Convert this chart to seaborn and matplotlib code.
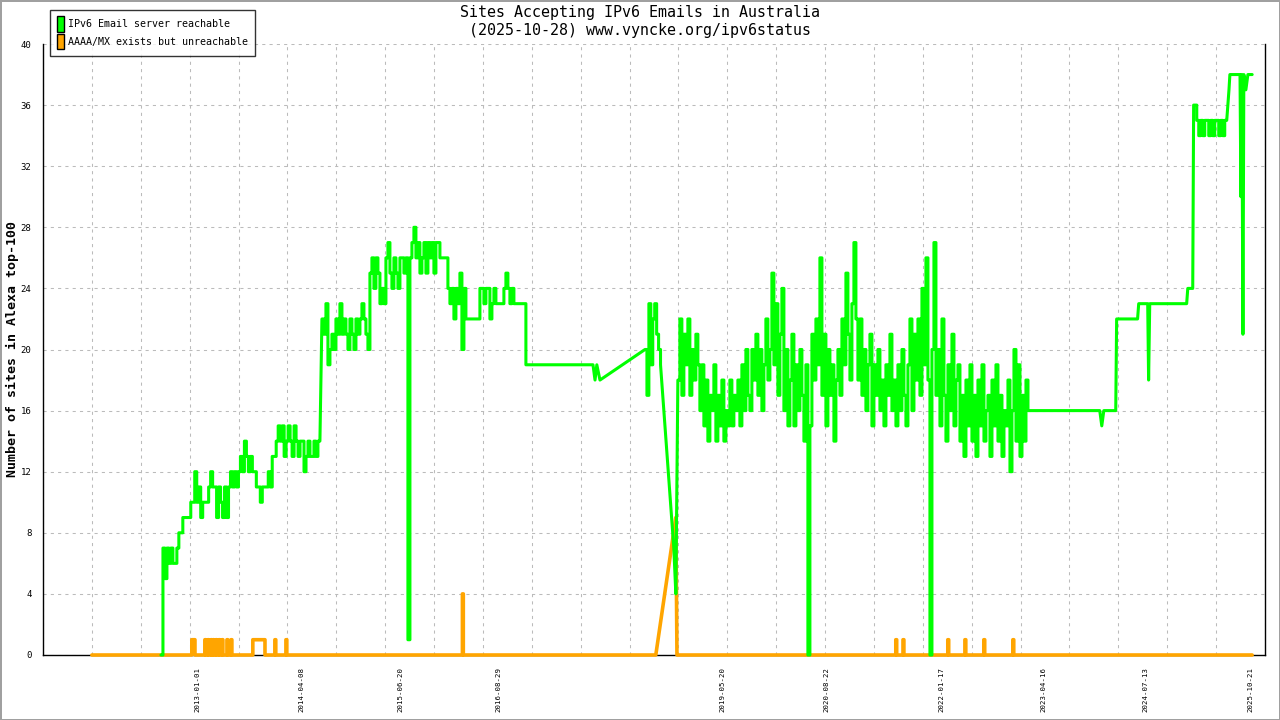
import numpy as np
import pandas as pd
import matplotlib
matplotlib.use("Agg")
import matplotlib.pyplot as plt
from matplotlib.patches import Patch
import seaborn as sns

#%% values
first_day = "2011-09-18"
last_day = "2025-10-28"

# green (reachable) - noisy stretches, read at even steps between two dates
g_early_span = ("2012-07-21", "2014-06-27")
g_early = [0, 7, 5, 7, 6, 7, 6, 6, 7, 8,
           8, 9, 9, 9, 9, 10, 10, 12, 10, 11,
           9, 10, 10, 10, 11, 12, 11, 11, 9, 11,
           10, 9, 11, 9, 11, 12, 11, 12, 11, 12,
           13, 12, 14, 13, 12, 13, 12, 12, 11, 11,
           10, 11, 11, 11, 12, 11, 13, 13, 14, 15,
           14, 15, 13, 14, 15, 14, 13, 15, 14, 13,
           14, 14, 12, 13, 14, 13, 13, 14, 13, 14, 14]

g_peak_span = ("2014-07-06", "2016-12-28")
g_peak = [22, 21, 23, 19, 20, 21, 20, 22, 21, 23,
          21, 22, 21, 20, 22, 21, 20, 22, 21, 22,
          23, 22, 21, 20, 25, 26, 24, 26, 25, 23,
          24, 23, 26, 27, 25, 24, 26, 25, 24, 26,
          26, 25, 26, 1, 26, 27, 28, 26, 27, 25,
          26, 27, 25, 27, 26, 27, 25, 27, 27, 26,
          26, 26, 26, 24, 23, 24, 22, 24, 23, 25,
          20, 24, 22, 22, 22, 22, 22, 22, 22, 24,
          24, 23, 24, 24, 22, 23, 24, 23, 23, 23,
          23, 24, 25, 24, 23, 24, 23, 23, 23, 23,
          23, 23, 19]

g_mid_span = ("2018-06-10", "2018-08-18")
g_mid = [20, 17, 23, 19, 22, 23, 21, 20, 19]

g_noisy_span = ("2018-11-03", "2023-02-14")
g_noisy = [18, 22, 17, 21, 19, 22, 17, 20, 18, 21,
           19, 16, 19, 15, 18, 14, 17, 16, 19, 14,
           17, 15, 18, 14, 16, 15, 18, 15, 17, 16,
           18, 15, 19, 16, 20, 17, 16, 20, 18, 21,
           17, 20, 16, 19, 22, 18, 20, 25, 19, 23,
           17, 21, 24, 16, 20, 15, 18, 21, 15, 19,
           16, 20, 17, 14, 19, 0, 15, 21, 18, 22,
           19, 26, 17, 21, 15, 20, 17, 19, 14, 18,
           20, 17, 22, 19, 25, 21, 18, 23, 27, 22,
           18, 22, 17, 20, 16, 19, 21, 15, 19, 17,
           20, 16, 18, 15, 19, 17, 21, 16, 18, 15,
           19, 16, 20, 17, 15, 19, 22, 16, 21, 18,
           22, 17, 24, 19, 26, 18, 0, 20, 27, 17,
           20, 15, 22, 17, 14, 19, 16, 21, 15, 18,
           19, 14, 17, 13, 18, 15, 19, 14, 17, 13,
           18, 15, 19, 14, 16, 17, 13, 18, 15, 19,
           14, 17, 13, 16, 15, 18, 12, 16, 20, 14,
           19, 13, 17, 14, 18, 16, 16]

g_late_span = ("2025-02-15", "2025-07-07")
g_late = [36, 35, 34, 35, 34, 35, 35, 34, 35, 34, 35, 35, 34, 35, 34, 35, 35]

# green - single readings on the quiet stretches
g_dates = ["2017-10-22", "2017-10-31", "2017-11-08", "2017-11-22",
           "2018-10-16", "2018-10-25",
           "2023-12-21", "2023-12-30", "2024-01-08", "2024-03-01", "2024-03-05",
           "2024-06-06", "2024-06-11", "2024-07-21", "2024-07-25", "2024-07-30",
           "2025-01-10", "2025-01-15", "2025-02-06", "2025-02-10",
           "2025-07-12", "2025-07-17", "2025-07-21", "2025-09-04", "2025-09-08",
           "2025-09-12", "2025-09-17", "2025-09-21", "2025-09-30", "2025-10-09",
           "2025-10-28"]
g_vals = [19, 18, 19, 18,
          7, 4,
          16, 15, 16, 16, 22,
          22, 23, 23, 18, 23,
          23, 24, 24, 36,
          36, 37, 38, 38, 30,
          38, 21, 38, 37, 38,
          38]

# orange (AAAA/MX but unreachable) - periods above zero
o_starts = ["2012-12-05", "2013-02-01", "2013-02-14", "2013-02-28", "2013-03-09",
            "2013-03-22", "2013-04-04", "2013-04-18", "2013-05-10", "2013-05-28",
            "2013-09-02", "2013-12-09", "2014-01-27", "2016-03-21",
            "2021-06-28", "2021-07-30", "2022-02-14", "2022-05-01", "2022-07-24",
            "2022-11-30"]
o_ends = ["2012-12-19", "2013-02-05", "2013-02-18", "2013-03-04", "2013-03-13",
          "2013-03-26", "2013-04-08", "2013-04-22", "2013-05-14", "2013-06-01",
          "2013-10-26", "2013-12-13", "2014-01-31", "2016-03-25",
          "2021-07-02", "2021-08-03", "2022-02-18", "2022-05-05", "2022-07-28",
          "2022-12-04"]
o_levels = [1, 1, 1, 1, 1, 1, 1, 1, 1, 1, 1, 1, 1, 4, 1, 1, 1, 1, 1, 1]
o_ramp_dates = ["2018-07-28", "2018-10-25", "2018-10-30"]
o_ramp_vals = [0, 9, 0]

x_label_dates = ["2013-01-01", "2014-04-08", "2015-06-20", "2016-08-29",
                 "2019-05-20", "2020-08-22", "2022-01-17", "2023-04-16",
                 "2024-07-13", "2025-10-21"]

#%% build the two series (daily data in the original, so noisy stretches are held as steps)
parts = [pd.DataFrame({"date": pd.to_datetime(g_dates), "value": g_vals})]
for span, vals in [(g_early_span, g_early), (g_peak_span, g_peak), (g_mid_span, g_mid),
                   (g_noisy_span, g_noisy), (g_late_span, g_late)]:
    d = pd.date_range(span[0], span[1], periods=len(vals))
    sd, sv = [d[0]], [vals[0]]
    for i in range(1, len(vals)):
        sd += [d[i], d[i]]
        sv += [vals[i - 1], vals[i]]
    parts.append(pd.DataFrame({"date": sd, "value": sv}))
green = pd.concat(parts).sort_values("date", kind="stable").reset_index(drop=True)

o_d = [first_day, last_day] + o_ramp_dates
o_v = [0, 0] + o_ramp_vals
for s, e, lev in zip(o_starts, o_ends, o_levels):
    o_d += [s, s, e, e]
    o_v += [0, lev, lev, 0]
orange = pd.DataFrame({"date": pd.to_datetime(o_d), "value": o_v})
orange = orange.sort_values("date", kind="stable").reset_index(drop=True)

#%% plot
sns.set_style("white")
plt.rcParams["font.family"] = ["DejaVu Sans Mono"]
plt.rcParams["text.color"] = "black"
plt.rcParams["xtick.color"] = "black"
plt.rcParams["ytick.color"] = "black"

fig = plt.figure(figsize=(12.8, 7.2), dpi=100)
ax = fig.add_axes([43 / 1280, 65 / 720, 1222 / 1280, 611 / 720])

sns.lineplot(data=orange, x="date", y="value", ax=ax, color="#ffa500", lw=2.6,
             estimator=None, sort=False, zorder=3, clip_on=False)
sns.lineplot(data=green, x="date", y="value", ax=ax, color="#00ff00", lw=2.2,
             estimator=None, sort=False, zorder=4, clip_on=False)

ax.set_xlim(pd.Timestamp("2011-02-13"), pd.Timestamp("2025-12-24"))
ax.set_ylim(0, 40)
ax.set_xlabel("")
ax.set_ylabel("")

ax.set_yticks(np.arange(0, 41, 4))
ax.tick_params(axis="y", direction="out", length=4.3, width=1, labelsize=6.5, pad=4,
               labelcolor="black")

ax.set_xticks(pd.to_datetime(x_label_dates))
ax.set_xticklabels(x_label_dates, rotation=90, fontsize=5.3, va="top", ha="center")
ax.tick_params(axis="x", which="major", length=0, pad=8.5, labelcolor="black")
lo, hi = ax.get_xlim()
ax.set_xticks(np.linspace(lo, hi, 26), minor=True)
ax.tick_params(axis="x", which="minor", direction="out", length=3.5, width=1)

grid_kw = dict(color="#bbbbbb", lw=0.75, linestyle=(0, (3, 4)))
ax.grid(axis="y", which="major", **grid_kw)
ax.grid(axis="x", which="minor", **grid_kw)
ax.grid(axis="x", which="major", visible=False)

for side in ["left", "bottom", "right"]:
    ax.spines[side].set_color("black")
    ax.spines[side].set_linewidth(1)
ax.spines["top"].set_visible(False)

fig.text(0.5, 1 - 13 / 720, "Sites Accepting IPv6 Emails in Australia",
         ha="center", va="center", fontsize=10.8, color="black")
fig.text(0.5, 1 - 31 / 720, "(2025-10-28) www.vyncke.org/ipv6status",
         ha="center", va="center", fontsize=10.8, color="black")
fig.text(12 / 1280, 1 - 349.5 / 720, "Number of sites in Alexa top-100",
         rotation=90, ha="center", va="center", fontsize=9.5, fontweight="bold",
         color="black")

handles = [Patch(facecolor="#00ff00", edgecolor="black", label="IPv6 Email server reachable"),
           Patch(facecolor="#ffa500", edgecolor="black", label="AAAA/MX exists but unreachable")]
leg = fig.legend(handles=handles, loc="upper left", bbox_to_anchor=(50 / 1280, 1 - 10 / 720),
                 fontsize=7.2, frameon=True, fancybox=False, edgecolor="black",
                 handlelength=0.7, handleheight=2.0, handletextpad=0.5,
                 labelspacing=0.2, borderpad=0.65, borderaxespad=0)
leg.get_frame().set_linewidth(1.0)
for t in leg.get_texts():
    t.set_color("black")

fig.patch.set_edgecolor("#a0a0a0")
fig.patch.set_linewidth(2)
fig.savefig("out.png", dpi=100, edgecolor=fig.get_edgecolor())
